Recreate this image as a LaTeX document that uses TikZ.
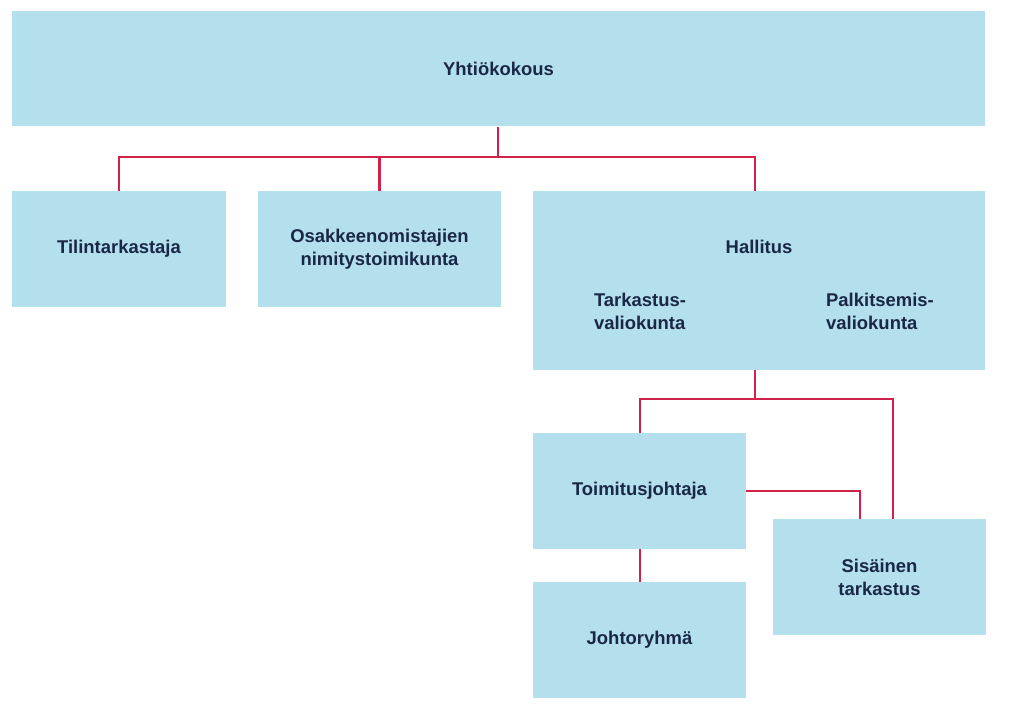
\documentclass[tikz,border=0pt]{standalone}
\usepackage{fontspec}
\setmainfont{Liberation Sans}
\usetikzlibrary{positioning}
\definecolor{boxblue}{HTML}{B3E0EC}
\definecolor{linkred}{HTML}{D2224B}
\definecolor{textnavy}{HTML}{1A2746}
\tikzset{
  orgbox/.style={fill=boxblue, text=textnavy, font=\bfseries\fontsize{10.5}{13}\selectfont,
    align=center, inner sep=0pt, minimum height=2.32cm},
  link/.style={draw=linkred, line width=1.3pt}
}
\begin{document}
\begin{tikzpicture}[x=0.02cm,y=-0.02cm]
        \useasboundingbox (0,0) rectangle (1023,718);

        %% top level %%
        \node[orgbox, minimum width=19.46cm] (meeting) at (498.5,68.5) {Yhtiökokous};

        %% second level %%
        \node[orgbox, minimum width=4.28cm] (auditor) at (119,249) {Tilintarkastaja};
        \node[orgbox, minimum width=4.86cm] (nomination) at (379.5,249) {Osakkeenomistajien\\nimitystoimikunta};
        \node[orgbox, minimum width=9.04cm, minimum height=3.58cm] (board) at (759,280.5) {};
        \node[text=textnavy, font=\bfseries\fontsize{10.5}{13}\selectfont] (boardname) at (759,247) {Hallitus};
        \node[text=textnavy, font=\bfseries\fontsize{10.5}{13}\selectfont, align=left] (auditcom) at (640,311) {Tarkastus-\\valiokunta};
        \node[text=textnavy, font=\bfseries\fontsize{10.5}{13}\selectfont, align=left] (paycom) at (880,311) {Palkitsemis-\\valiokunta};

        %% management %%
        \node[orgbox, minimum width=4.26cm] (ceo) at (639.5,491) {Toimitusjohtaja};
        \node[orgbox, minimum width=4.26cm] (mgmt) at (639.5,640) {Johtoryhmä};
        \node[orgbox, minimum width=4.26cm] (internal) at (879.5,577) {Sisäinen\\tarkastus};

        %% connectors %%
        \coordinate (j1) at (498,157);
        \coordinate (j2) at (755,399);
        \draw[link] (meeting.south -| j1) -- (j1);
        \draw[link] (auditor.north) |- (j1) -| (board.north -| 755,0);
        \draw[link] (nomination.north) -- (nomination.north |- j1);
        \draw[link] (board.south -| j2) -- (j2);
        \draw[link] (ceo.north -| 640,0) |- (j2) -| (internal.north -| 893,0);
        \draw[link] (ceo.east) -| (internal.north -| 860,0);
        \draw[link] (ceo.south -| 640,0) -- (mgmt.north -| 640,0);
\end{tikzpicture}
\end{document}
